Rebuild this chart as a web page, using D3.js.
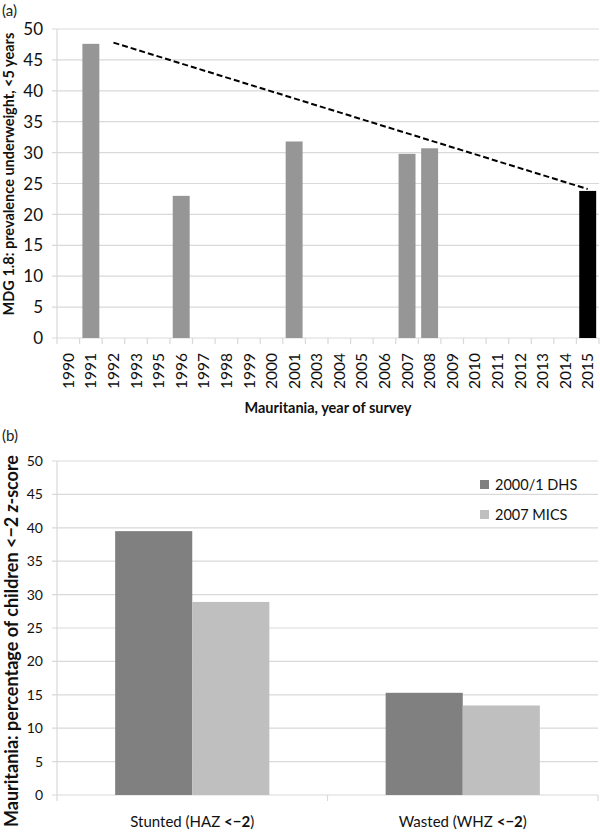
<!DOCTYPE html>
<html><head><meta charset="utf-8">
<script src="https://cdn.jsdelivr.net/npm/d3@7"></script>
<style>body{margin:0;background:#fff;} svg{display:block;font-family:Lato,"Open Sans",sans-serif;}</style>
</head><body>
<svg id="c" width="600" height="838"></svg>
<script>
// ---- Data panel (a)
const years = ["1990","1991","1992","1993","1995","1996","1997","1998","1999","2000","2001","2003","2004","2005","2006","2007","2008","2009","2010","2011","2012","2013","2014","2015"];
const surveyYears = ["1991","1996","2001","2007","2008","2015"];
const underweight = [47.6, 23.0, 31.8, 29.8, 30.7, 23.8];
const targetYears = ["1992","2015"];
const targetValues = [47.8, 24.1];
const yTicksA = [0,5,10,15,20,25,30,35,40,45,50];
// ---- Data panel (b)
const indicators = ["Stunted","Wasted"];
const indicatorCodes = ["HAZ","WHZ"];
const surveys = ["2000/1 DHS","2007 MICS"];
const dhsValues = [39.5, 15.3];
const micsValues = [28.9, 13.4];
const yTicksB = [0,5,10,15,20,25,30,35,40,45,50];

const svg = d3.select("#c");
const grid = "#d9d9d9";

// ================= Panel (a)
const L=57, R=599, topA=29, botA=338;
const xA = d3.scaleBand().domain(years).range([L,R]).paddingInner(0.25).paddingOuter(0.125);
const yA = d3.scaleLinear().domain([0,50]).range([botA,topA]);
const gA = svg.append("g");
gA.append("text").attr("x",2).attr("y",16).attr("font-size",15).attr("fill","#222").text("(a)");
gA.selectAll(".g").data(yTicksA).join("line")
  .attr("x1",L-5).attr("x2",R).attr("y1",d=>yA(d)).attr("y2",d=>yA(d))
  .attr("stroke",grid).attr("stroke-width",1.2);
gA.append("line").attr("x1",L).attr("x2",L).attr("y1",topA).attr("y2",botA).attr("stroke",grid).attr("stroke-width",1.2);
gA.selectAll(".yt").data(yTicksA).join("text")
  .attr("x",L-14).attr("y",d=>yA(d)).attr("dy","0.36em").attr("text-anchor","end")
  .attr("font-size",17).attr("fill","#111").text(d=>d);
const step = xA.step();
const bounds = d3.range(years.length+1).map(i=>L+i*step);
gA.selectAll(".xt").data(bounds).join("line")
  .attr("x1",d=>d).attr("x2",d=>d).attr("y1",botA).attr("y2",botA+6)
  .attr("stroke",grid).attr("stroke-width",1.2);
gA.selectAll(".xl").data(years).join("text")
  .attr("transform",d=>`translate(${xA(d)+xA.bandwidth()/2},${botA+15}) rotate(-90)`)
  .attr("text-anchor","end").attr("dy","0.36em").attr("font-size",15.5).attr("fill","#111").text(d=>d);
gA.selectAll(".bar").data(surveyYears.map((y,i)=>({y,v:underweight[i]}))).join("rect")
  .attr("x",d=>xA(d.y)).attr("width",xA.bandwidth())
  .attr("y",d=>yA(d.v)).attr("height",d=>botA-yA(d.v))
  .attr("fill",d=>d.y==="2015"?"#000":"#969696");
const line = d3.line().x(d=>xA(d.y)+xA.bandwidth()/2).y(d=>yA(d.v));
gA.append("path").datum(targetYears.map((y,i)=>({y,v:targetValues[i]})))
  .attr("d",line).attr("fill","none").attr("stroke","#000").attr("stroke-width",2).attr("stroke-dasharray","6,3");
gA.append("text").attr("x",(L+R)/2).attr("y",413).attr("text-anchor","middle")
  .attr("font-size",14.5).attr("font-weight","bold").attr("fill","#111").text("Mauritania, year of survey");
gA.append("text").attr("transform",`translate(14,174) rotate(-90)`).attr("text-anchor","middle")
  .attr("font-size",14.5).attr("font-weight","bold").attr("fill","#111").text("MDG 1.8: prevalence underweight, <5 years");

// ================= Panel (b)
const LB=57, RB=598, topB=461, botB=795;
const xB = d3.scaleBand().domain(indicators).range([LB,RB]).paddingInner(0.43).paddingOuter(0.215);
const xS = d3.scaleBand().domain(surveys).range([0,xB.bandwidth()]);
const yB = d3.scaleLinear().domain([0,50]).range([botB,topB]);
const colors = d3.scaleOrdinal().domain(surveys).range(["#808080","#bfbfbf"]);
const gB = svg.append("g");
gB.append("text").attr("x",2).attr("y",441).attr("font-size",15).attr("fill","#222").text("(b)");
gB.selectAll(".g").data(yTicksB).join("line")
  .attr("x1",LB-5).attr("x2",RB).attr("y1",d=>yB(d)).attr("y2",d=>yB(d))
  .attr("stroke",grid).attr("stroke-width",1.2);
gB.append("line").attr("x1",LB).attr("x2",LB).attr("y1",topB).attr("y2",botB).attr("stroke",grid).attr("stroke-width",1.2);
gB.selectAll(".yt").data(yTicksB).join("text")
  .attr("x",LB-14).attr("y",d=>yB(d)).attr("dy","0.36em").attr("text-anchor","end")
  .attr("font-size",14).attr("fill","#111").text(d=>d);
const stepB = xB.step();
const boundsB = d3.range(indicators.length+1).map(i=>LB+i*stepB);
gB.selectAll(".xt").data(boundsB).join("line")
  .attr("x1",d=>d).attr("x2",d=>d).attr("y1",botB).attr("y2",botB+6)
  .attr("stroke",grid).attr("stroke-width",1.2);
const barData = [];
indicators.forEach((c,i)=>{ barData.push({c,s:surveys[0],v:dhsValues[i]}); barData.push({c,s:surveys[1],v:micsValues[i]}); });
gB.selectAll(".bar").data(barData).join("rect")
  .attr("x",d=>xB(d.c)+xS(d.s)).attr("width",xS.bandwidth())
  .attr("y",d=>yB(d.v)).attr("height",d=>botB-yB(d.v)).attr("fill",d=>colors(d.s));
indicators.forEach((c,i)=>{
  const t = gB.append("text").attr("x",xB(c)+xB.bandwidth()/2).attr("y",827).attr("text-anchor","middle")
    .attr("font-size",15).attr("fill","#111");
  t.append("tspan").text(`${c} (${indicatorCodes[i]} `);
  t.append("tspan").attr("font-weight","bold").text("<−2");
  t.append("tspan").text(")");
});
const lg = gB.selectAll(".lg").data(surveys).join("g").attr("transform",(d,i)=>`translate(480,${480+i*30})`);
lg.append("rect").attr("width",9).attr("height",9).attr("fill",d=>colors(d));
lg.append("text").attr("x",15).attr("y",9.5).attr("font-size",14.5).attr("fill","#111").text(d=>d);
const yt = gB.append("text").attr("transform",`translate(18,641) rotate(-90)`).attr("text-anchor","middle")
  .attr("font-size",18).attr("font-weight","bold").attr("fill","#111");
yt.append("tspan").text("Mauritania: percentage of children <−2 ");
yt.append("tspan").attr("font-style","italic").text("z");
yt.append("tspan").text("-score");
</script>
</body></html>
